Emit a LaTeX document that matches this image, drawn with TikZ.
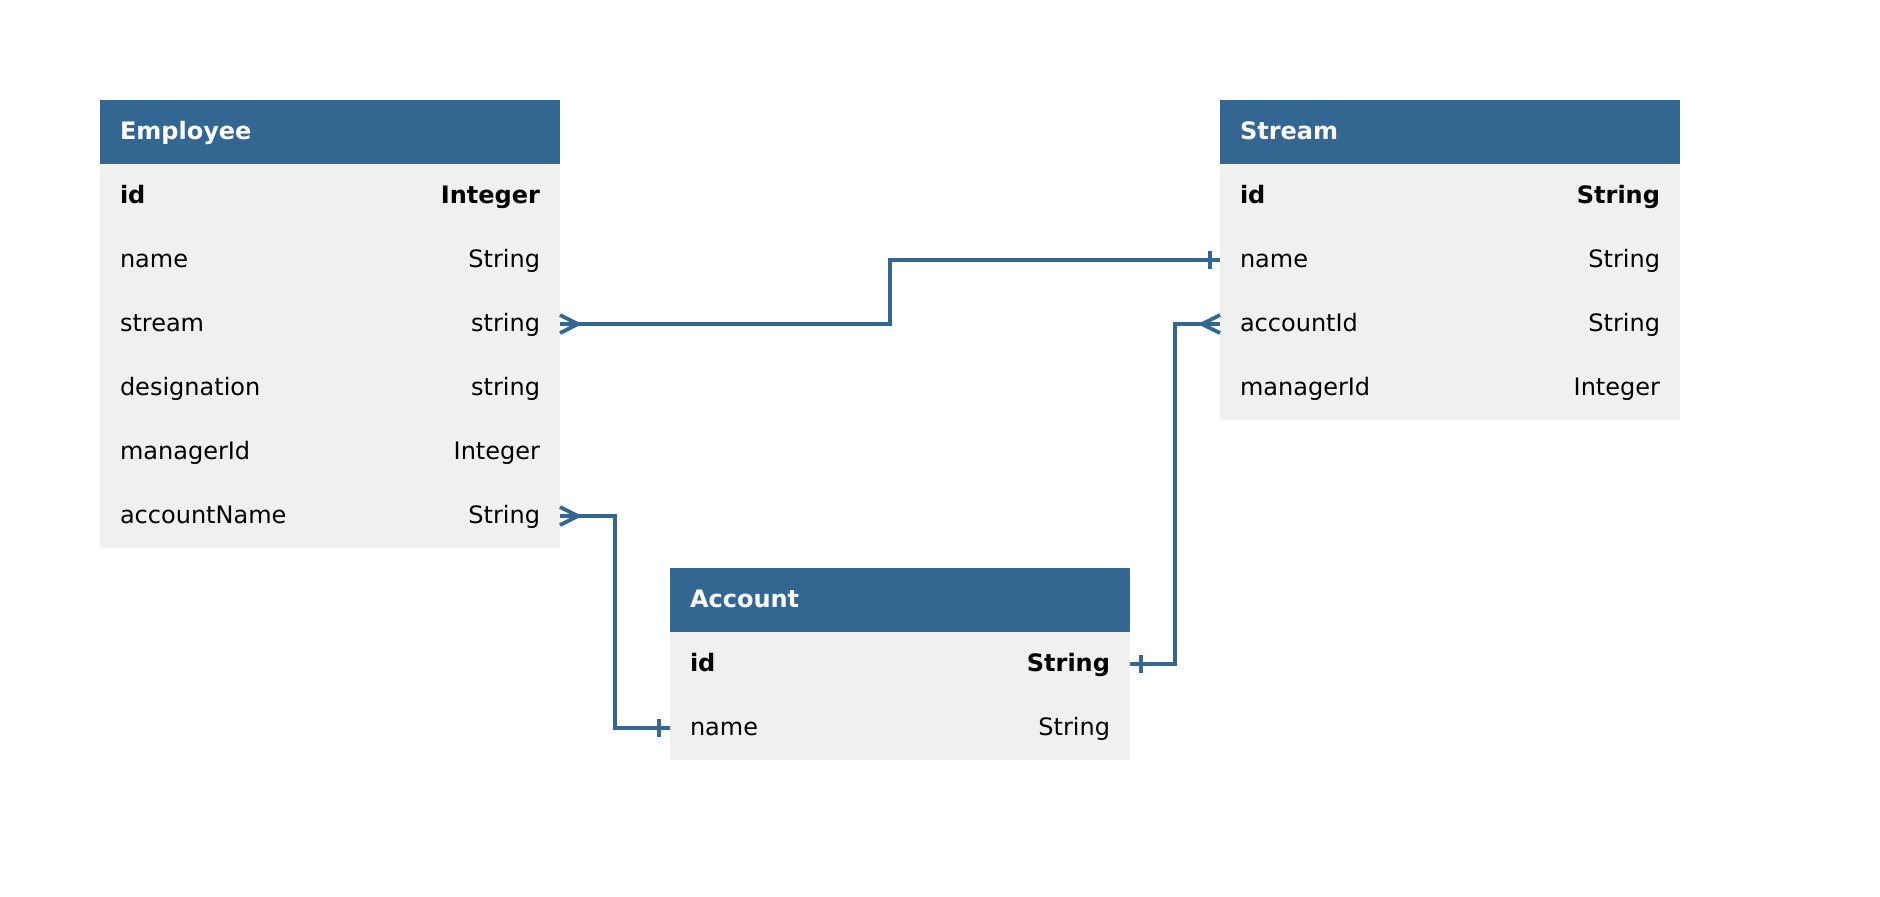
\documentclass[tikz,border=0pt]{standalone}
\usepackage{fontspec}
\setmainfont{DejaVu Sans}
\usetikzlibrary{calc}
\definecolor{hdrblue}{RGB}{51,103,145}
\definecolor{rowgray}{RGB}{240,240,240}
\newcommand\erow[5]{%
  \node[row] (#1) at (#2,#3) {};
  \node[txt, anchor=base west] (#1k) at ($(#1.west)+(20,7)$) {#4};
  \node[txt, anchor=base east] (#1t) at ($(#1.east)+(-20,7)$) {#5};
}
\newcommand\ehead[4]{%
  \node[hdr] (#1) at (#2,#3) {};
  \node[txt, anchor=base west, text=white] (#1k) at ($(#1.west)+(20,7)$) {\bfseries #4};
}
\begin{document}
\begin{tikzpicture}[x=0.5pt,y=-0.5pt,
  hdr/.style={rectangle, fill=hdrblue, draw=none, minimum width=230pt, minimum height=32pt, anchor=north west, inner sep=0pt, outer sep=0pt},
  row/.style={hdr, fill=rowgray},
  txt/.style={inner sep=0pt, outer sep=0pt, font=\fontsize{12}{14}\selectfont},
  conn/.style={draw=hdrblue, line width=1.8pt},
  crowfoot/.style={draw=hdrblue, line width=1.9pt}]
\useasboundingbox (0,0) rectangle (1880,896);
% Employee
\ehead{E0}{100}{100}{Employee}
\erow{E1}{100}{164}{\bfseries id}{\bfseries Integer}
\erow{E2}{100}{228}{name}{String}
\erow{E3}{100}{292}{stream}{string}
\erow{E4}{100}{356}{designation}{string}
\erow{E5}{100}{420}{managerId}{Integer}
\erow{E6}{100}{484}{accountName}{String}
% Stream
\ehead{S0}{1220}{100}{Stream}
\erow{S1}{1220}{164}{\bfseries id}{\bfseries String}
\erow{S2}{1220}{228}{name}{String}
\erow{S3}{1220}{292}{accountId}{String}
\erow{S4}{1220}{356}{managerId}{Integer}
% Account
\ehead{A0}{670}{568}{Account}
\erow{A1}{670}{632}{\bfseries id}{\bfseries String}
\erow{A2}{670}{696}{name}{String}
% Connector 1: Employee.stream -> Stream.name
\coordinate (m1) at ($(E3.east)!0.5!(S2.west)$);
\draw[conn] (E3.east) -| (m1) |- (S2.west);
\draw[crowfoot] ($(E3.east)+(0,-9)$) -- ($(E3.east)+(18,0)$) -- ($(E3.east)+(0,9)$);
\draw[crowfoot] ($(S2.west)+(-10,-9)$) -- ($(S2.west)+(-10,9)$);
% Connector 2: Employee.accountName -> Account.name
\coordinate (m2) at ($(E6.east)!0.5!(A2.west)$);
\draw[conn] (E6.east) -| (m2) |- (A2.west);
\draw[crowfoot] ($(E6.east)+(0,-9)$) -- ($(E6.east)+(18,0)$) -- ($(E6.east)+(0,9)$);
\draw[crowfoot] ($(A2.west)+(-11,-9)$) -- ($(A2.west)+(-11,9)$);
% Connector 3: Account.id -> Stream.accountId
\coordinate (m3) at ($(A1.east)!0.5!(S3.west)$);
\draw[conn] (A1.east) -| (m3) |- (S3.west);
\draw[crowfoot] ($(A1.east)+(11,-9)$) -- ($(A1.east)+(11,9)$);
\draw[crowfoot] ($(S3.west)+(0,-9)$) -- ($(S3.west)+(-18,0)$) -- ($(S3.west)+(0,9)$);
\end{tikzpicture}
\end{document}
